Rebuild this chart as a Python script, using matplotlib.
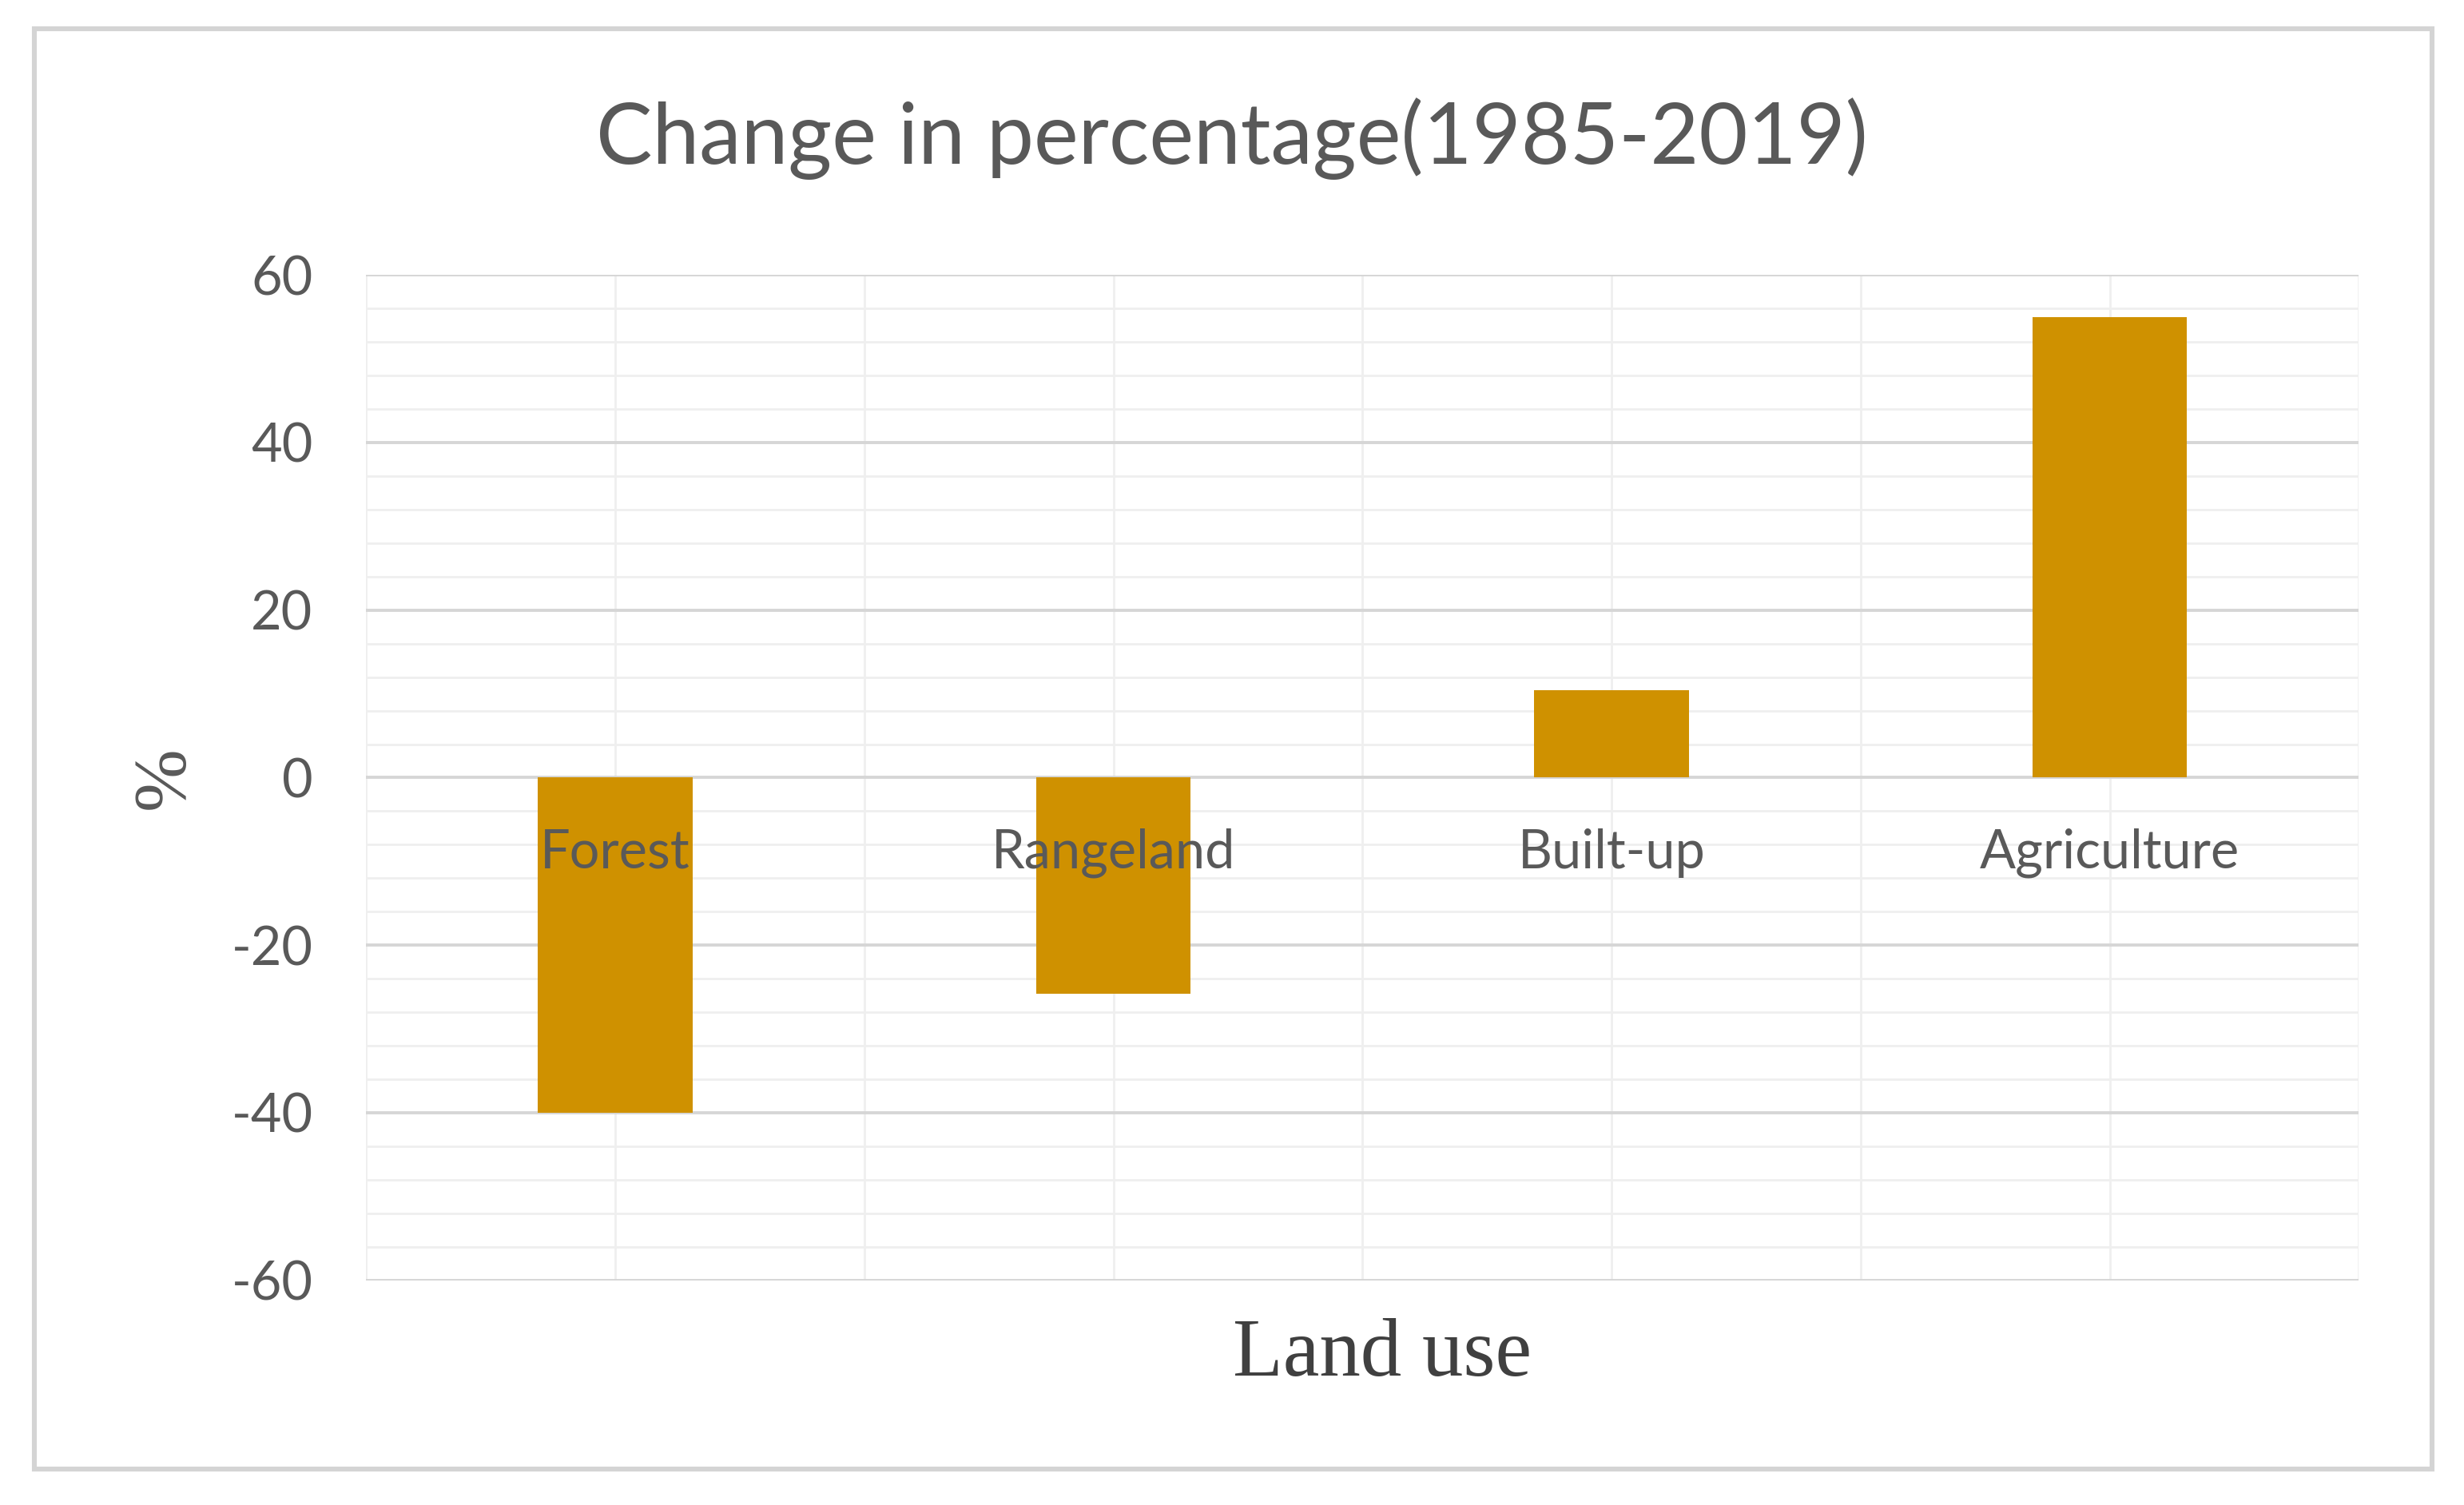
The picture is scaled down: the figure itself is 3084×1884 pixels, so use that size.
import matplotlib
matplotlib.use("Agg")
import matplotlib.pyplot as plt
from matplotlib.patches import Rectangle
from matplotlib.ticker import MultipleLocator

categories = ["Forest", "Rangeland", "Built-up", "Agriculture"]
values = [-40.0, -25.8, 10.4, 55.0]
yticks = [-60, -40, -20, 0, 20, 40, 60]
title = "Change in percentage(1985-2019)"
xlabel = "Land use"
ylabel = "%"

TXT = "#595959"
BAR = "#CF9100"

fig = plt.figure(figsize=(15.42, 9.42), dpi=200)
fig.patch.set_facecolor("white")

# outer chart border
fig.add_artist(Rectangle((0.014, 0.024), 0.973, 0.957, transform=fig.transFigure,
                         fill=False, edgecolor="#d4d4d4", linewidth=2.2))

ax = fig.add_axes([0.1486, 0.1493, 0.8087, 0.668])
ax.set_axisbelow(True)
x = list(range(len(categories)))
ax.bar(x, values, width=0.31, color=BAR, zorder=3)

ax.set_xlim(-0.5, len(categories) - 0.5)
ax.set_ylim(-60, 60)
ax.set_yticks(yticks)
ax.set_yticklabels([str(v) for v in yticks])
ax.yaxis.set_minor_locator(MultipleLocator(4))
ax.set_xticks(x)
ax.set_xticklabels([])
ax.xaxis.set_minor_locator(MultipleLocator(0.5))

ax.grid(which="major", axis="y", color="#d6d6d6", linewidth=1.4)
ax.grid(which="minor", axis="y", color="#efefef", linewidth=1.0)
ax.grid(which="both", axis="x", color="#efefef", linewidth=1.0)

for s in ["top", "right", "left", "bottom"]:
    ax.spines[s].set_visible(False)

ax.tick_params(axis="x", which="both", length=0)
ax.tick_params(axis="y", which="both", length=0, pad=24, labelsize=24, labelcolor=TXT)
for lab in ax.get_yticklabels():
    lab.set_fontfamily("Lato")

# category labels next to the zero line, drawn over the bars
for xi, cat in zip(x, categories):
    ax.annotate(cat, (xi, 0), xytext=(0, -34), textcoords="offset points",
                ha="center", va="center", fontsize=24, color=TXT, family="Lato",
                zorder=6)

fig.text(0.5, 0.908, title, ha="center", va="center", fontsize=38, color=TXT, family="Lato")
fig.text(0.561, 0.099, xlabel, ha="center", va="center", fontsize=37, color="#404040",
         family="Liberation Serif")
fig.text(0.067, 0.483, ylabel, ha="center", va="center", fontsize=34, color=TXT,
         family="Liberation Serif", rotation=90)

fig.savefig("out.png", dpi=200, facecolor="white")
